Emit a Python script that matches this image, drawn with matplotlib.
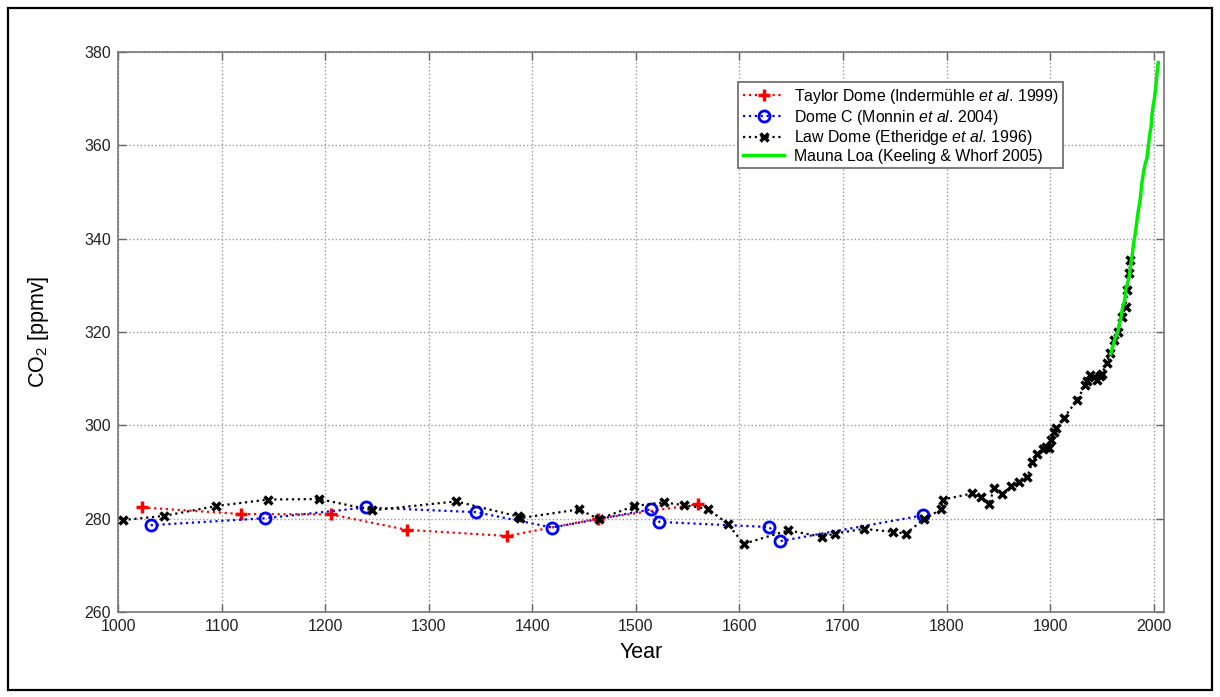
import matplotlib
matplotlib.use("Agg")
from matplotlib import pyplot as plt
from matplotlib.patches import Rectangle

plt.rcParams['font.family'] = ['Liberation Sans', 'DejaVu Sans']
plt.rcParams['mathtext.fontset'] = 'custom'
plt.rcParams['mathtext.rm'] = 'Liberation Sans'
plt.rcParams['mathtext.it'] = 'Liberation Sans:italic'

# Taylor Dome (Indermuehle et al. 1999)
taylor_year = [1023.5, 1118.5, 1206, 1279, 1376, 1463.5, 1560]
taylor_co2 = [282.4, 281.0, 280.9, 277.6, 276.3, 280.0, 283.1]

# Dome C (Monnin et al. 2004)
domec_year = [1031.6, 1142.3, 1239.6, 1345.6, 1419.3, 1514.7, 1522.7, 1629, 1639.6, 1777]
domec_co2 = [278.6, 280.1, 282.4, 281.4, 278.1, 282.0, 279.3, 278.2, 275.2, 280.7]

# Law Dome (Etheridge et al. 1996)
law_year = [1004.5, 1044.7, 1094.6, 1145, 1194.5, 1245.7, 1326.6, 1385.8, 1388,
            1445.4, 1464, 1498.6, 1527, 1546.2, 1569.7, 1588.7, 1604.1, 1647.3,
            1680, 1692, 1720, 1748, 1761, 1778, 1795, 1796.5, 1825, 1833, 1841,
            1846, 1854, 1862, 1870, 1878, 1883, 1887, 1893, 1896, 1899, 1901,
            1904, 1906, 1913, 1926, 1934, 1936, 1939, 1942, 1945.5, 1948, 1950,
            1954.5, 1958, 1962, 1965.5, 1969.7, 1973, 1974.5, 1976.5, 1977.5]
law_co2 = [279.7, 280.6, 282.7, 284.1, 284.2, 281.8, 283.7, 280.5, 280.1,
           282.0, 279.9, 282.7, 283.5, 282.9, 282.1, 278.9, 274.6, 277.5,
           276.1, 276.8, 277.8, 277.2, 276.8, 279.9, 282.0, 284.1, 285.4, 284.7, 283.1,
           286.5, 285.2, 287.0, 287.8, 289.0, 292.2, 293.9, 294.9, 295.4, 295.1, 296.9,
           298.5, 299.4, 301.5, 305.4, 308.6, 309.5, 310.8, 310.3, 309.7, 310.5, 311.1,
           313.3, 315.4, 318.3, 320.1, 323.3, 325.4, 329.0, 332.6, 335.4]

# Mauna Loa (Keeling & Whorf 2005), annual means
ml_year = [1958.5, 1959.5, 1960.5, 1961.5, 1962.5, 1963.5, 1964.5, 1965.5, 1966.5,
           1967.5, 1968.5, 1969.5, 1970.5, 1971.5, 1972.5, 1973.5, 1974.5, 1975.5,
           1976.5, 1977.5, 1978.5, 1979.5, 1980.5, 1981.5, 1982.5, 1983.5, 1984.5,
           1985.5, 1986.5, 1987.5, 1988.5, 1989.5, 1990.5, 1991.5, 1992.5, 1993.5,
           1994.5, 1995.5, 1996.5, 1997.5, 1998.5, 1999.5, 2000.5, 2001.5, 2002.5,
           2003.5, 2004.5]
ml_co2 = [315.3, 316.0, 316.9, 317.6, 318.5, 319.0, 319.6, 320.0, 321.4, 322.2,
          323.1, 324.6, 325.7, 326.3, 327.5, 329.7, 330.2, 331.1, 332.0, 333.8,
          335.4, 336.8, 338.8, 340.1, 341.5, 343.2, 344.9, 346.4, 347.6, 349.3,
          351.7, 353.2, 354.5, 355.7, 356.5, 357.2, 359.0, 361.0, 362.7, 363.9,
          366.8, 368.5, 369.7, 371.3, 373.5, 376.0, 377.7]

xticks = [1000, 1100, 1200, 1300, 1400, 1500, 1600, 1700, 1800, 1900, 2000]
yticks = [260, 280, 300, 320, 340, 360, 380]

fig = plt.figure(figsize=(12.2, 6.97), dpi=100)
ax = fig.add_axes([118 / 1220, 85 / 697, 1046 / 1220, 560 / 697])

ax.plot(taylor_year, taylor_co2, ':', color='red', lw=1.6, marker='+', ms=9, mew=2.5,
        label='Taylor Dome (Indermühle $\\it{et}$ $\\it{al}$. 1999)', zorder=3)
ax.plot(domec_year, domec_co2, ':', color='blue', lw=1.6, marker='o', ms=8, mew=2,
        mfc='none', label='Dome C (Monnin $\\it{et}$ $\\it{al}$. 2004)', zorder=3)
ax.plot(law_year, law_co2, ':', color='black', lw=1.6, marker='x', ms=6, mew=2.5,
        label='Law Dome (Etheridge $\\it{et}$ $\\it{al}$. 1996)', zorder=4)
ax.plot(ml_year, ml_co2, '-', color='#00ee00', lw=2.5,
        label='Mauna Loa (Keeling & Whorf 2005)', zorder=5)

ax.set_xlim(1000, 2010)
ax.set_ylim(260, 380)
ax.set_xticks(xticks)
ax.set_yticks(yticks)
ax.grid(True, linestyle=':', color='#999999', lw=1)
ax.tick_params(direction='in', length=6, width=1, color='#666666', labelsize=11.5,
               labelcolor='#222222', top=True, right=True, pad=5)
for sp in ax.spines.values():
    sp.set_color('#777777')
    sp.set_linewidth(1.2)

ax.set_xlabel('Year', fontsize=15.5, labelpad=6)
ax.set_ylabel('CO$_2$ [ppmv]', fontsize=15.5, labelpad=24)

leg = ax.legend(loc='upper left', bbox_to_anchor=(0.593, 0.946), borderaxespad=0,
                fontsize=11.4, fancybox=False, framealpha=1, edgecolor='#666666',
                handlelength=2.6, labelspacing=0.1, borderpad=0.3, handletextpad=0.6)
leg.get_frame().set_linewidth(1.2)

# frame round the whole figure
fig.patches.append(Rectangle((8 / 1220, 7 / 697), 1204 / 1220, 682 / 697,
                             transform=fig.transFigure, fill=False,
                             edgecolor='black', lw=1.6))

fig.savefig('out.png', dpi=100)
